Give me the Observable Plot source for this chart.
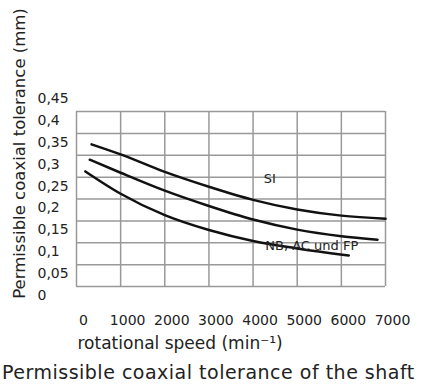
<!DOCTYPE html>
<html>
<head>
<meta charset="utf-8">
<script src="https://cdn.jsdelivr.net/npm/d3@7"></script>
<script src="https://cdn.jsdelivr.net/npm/@observablehq/plot@0.6"></script>
<style>
  html, body { margin: 0; padding: 0; background: #fff; }
  body { width: 422px; height: 391px; overflow: hidden; font-family: "DejaVu Sans", sans-serif; }
  #caption { font-size: 19px; letter-spacing: 0.5px; line-height: 28px; height: 33px; color: #222; padding-left: 2px; white-space: nowrap; }
</style>
</head>
<body>
<div id="chart"></div>
<div id="caption">Permissible coaxial tolerance of the shaft</div>
<script>
// --- data ---
const xTicks = [0, 1000, 2000, 3000, 4000, 5000, 6000, 7000];
const yTicks = [0, 0.05, 0.1, 0.15, 0.2, 0.25, 0.3, 0.35, 0.4, 0.45];
const gridY = [0, 0.05, 0.1, 0.15, 0.2, 0.25, 0.3, 0.35, 0.4];

const speedSI = [340, 1000, 2000, 3000, 4000, 5000, 6000, 7000];
const tolSI   = [0.325, 0.302, 0.262, 0.228, 0.198, 0.176, 0.162, 0.155];

const speedMid = [300, 1000, 2000, 3000, 4000, 5000, 6000, 6820];
const tolMid   = [0.29, 0.26, 0.219, 0.184, 0.153, 0.13, 0.115, 0.107];

const speedLow = [200, 1000, 2000, 3000, 4000, 5000, 6170];
const tolLow   = [0.263, 0.212, 0.163, 0.129, 0.104, 0.087, 0.071];

const curveLabels = ["SI", "NB, AC und FP"];
const labelSpeed = [4380, 5330];
const labelTol = [0.245, 0.094];

const yTitle = "Permissible coaxial tolerance (mm)";
const xTitle = "rotational speed (min⁻¹)";

const toRows = (xs, ys) => xs.map((x, i) => ({x, y: ys[i]}));
const fmt = d => String(d).replace(".", ",");

const chart = Plot.plot({
  width: 422,
  height: 358,
  marginLeft: 76,
  marginRight: 37,
  marginTop: 111,
  marginBottom: 72,
  style: {fontFamily: "DejaVu Sans, sans-serif", fontSize: "14px", color: "#222", background: "#fff"},
  x: {domain: [0, 7000]},
  y: {domain: [0, 0.4]},
  marks: [
    Plot.ruleX(xTicks, {stroke: "#999", strokeWidth: 1.5}),
    Plot.ruleY(gridY, {stroke: "#999", strokeWidth: 1.5}),
    Plot.line(toRows(speedSI, tolSI), {x: "x", y: "y", curve: "monotone-x", stroke: "#111", strokeWidth: 2.5}),
    Plot.line(toRows(speedMid, tolMid), {x: "x", y: "y", curve: "monotone-x", stroke: "#111", strokeWidth: 2.5}),
    Plot.line(toRows(speedLow, tolLow), {x: "x", y: "y", curve: "monotone-x", stroke: "#111", strokeWidth: 2.5}),
    Plot.text(curveLabels, {x: (d, i) => labelSpeed[i], y: (d, i) => labelTol[i], text: d => d, fontSize: 13, fill: "#222"}),
    Plot.axisX(xTicks, {tickSize: 0, tickPadding: 0, dy: 29, dx: 7, tickFormat: d => String(d), fontSize: 14, fill: "#222", label: null}),
    Plot.axisY(yTicks, {tickSize: 0, tickPadding: 0, textAnchor: "start", dx: -39, dy: 9, tickFormat: fmt, fontSize: 14, fill: "#222", label: null}),
    Plot.text([xTitle], {frameAnchor: "bottom-left", dx: 1, dy: 57, textAnchor: "start", lineAnchor: "middle", fontSize: 17, fill: "#222", style: "letter-spacing:0.3px"}),
    Plot.text([yTitle], {frameAnchor: "top-left", dx: -57, dy: 42, rotate: -90, textAnchor: "middle", lineAnchor: "middle", fontSize: 16.5, fill: "#222"})
  ]
});
document.getElementById("chart").appendChild(chart);
</script>
</body>
</html>
